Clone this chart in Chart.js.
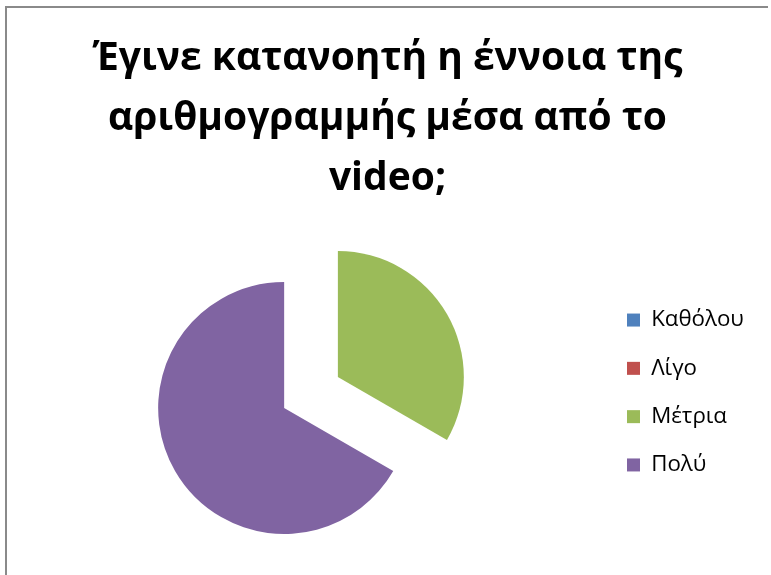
<!DOCTYPE html>
<html><head><meta charset="utf-8">
<script src="https://cdn.jsdelivr.net/npm/chart.js@4.4.1/dist/chart.umd.min.js"></script>
<style>
html,body{margin:0;padding:0;background:#fff;overflow:hidden;}
#wrap{position:relative;width:771px;height:575px;}
#frame{position:absolute;left:5px;top:6px;width:761px;height:600px;border-left:2px solid #8a8a8a;border-top:2px solid #8a8a8a;pointer-events:none;}
canvas{position:absolute;left:0;top:0;}
</style></head><body>
<div id="wrap"><canvas id="c" width="771" height="575"></canvas><div id="frame"></div></div>
<script>
// ---- data ----
const titleLines = ['Έγινε κατανοητή η έννοια της', 'αριθμογραμμής μέσα από το', 'video;'];
const categories = ['Καθόλου', 'Λίγο', 'Μέτρια', 'Πολύ'];
const responses = [0, 0, 5, 10];

// ---- style ----
const sliceColors = ['#4F81BD', '#C0504D', '#9BBB59', '#8064A2'];
const FONT = '"Open Sans", "Noto Sans", sans-serif';
const LEG_BOX = 13, LEG_PAD = 26;

const mctx = document.createElement('canvas').getContext('2d');
mctx.font = 'bold 100px ' + FONT;
const titleSize = Math.round(100 * 590 / mctx.measureText(titleLines[0]).width * 10) / 10;
mctx.font = '100px ' + FONT;
const legSize = Math.round(100 * 93 / mctx.measureText(categories[0]).width * 10) / 10;
mctx.font = legSize + 'px ' + FONT;
const maxLabelW = Math.max(...categories.map(c => mctx.measureText(c).width));
const legendW = LEG_PAD + LEG_BOX + legSize / 2 + maxLabelW + 10;
const padRight = Math.max(0, 771 - 601 - legendW);

const explodePlugin = {
  id: 'explode',
  afterDatasetsUpdate(chart, args, opts) {
    const meta = chart.getDatasetMeta(0);
    meta.data.forEach(arc => {
      if (!arc.circumference) return;
      const mid = (arc.startAngle + arc.endAngle) / 2;
      arc.x += Math.cos(mid) * opts.distance;
      arc.y += Math.sin(mid) * opts.distance;
    });
  }
};

new Chart(document.getElementById('c'), {
  type: 'pie',
  data: {
    labels: categories,
    datasets: [{
      data: responses,
      backgroundColor: sliceColors,
      borderWidth: 0,
      radius: 126
    }]
  },
  plugins: [explodePlugin],
  options: {
    responsive: false,
    animation: false,
    layout: { padding: { left: 21, right: padRight, top: 0, bottom: 0 } },
    plugins: {
      explode: { distance: 31 },
      tooltip: { enabled: false },
      title: {
        display: true,
        text: titleLines,
        color: '#000',
        font: { family: FONT, weight: 'bold', size: titleSize, lineHeight: '60px' },
        padding: { top: 29, bottom: 1 }
      },
      legend: {
        position: 'right',
        align: 'center',
        fullSize: false,
        labels: {
          boxWidth: LEG_BOX,
          boxHeight: LEG_BOX,
          padding: LEG_PAD,
          color: '#000',
          font: { family: FONT, size: legSize }
        }
      }
    }
  }
});
</script>
</body></html>
